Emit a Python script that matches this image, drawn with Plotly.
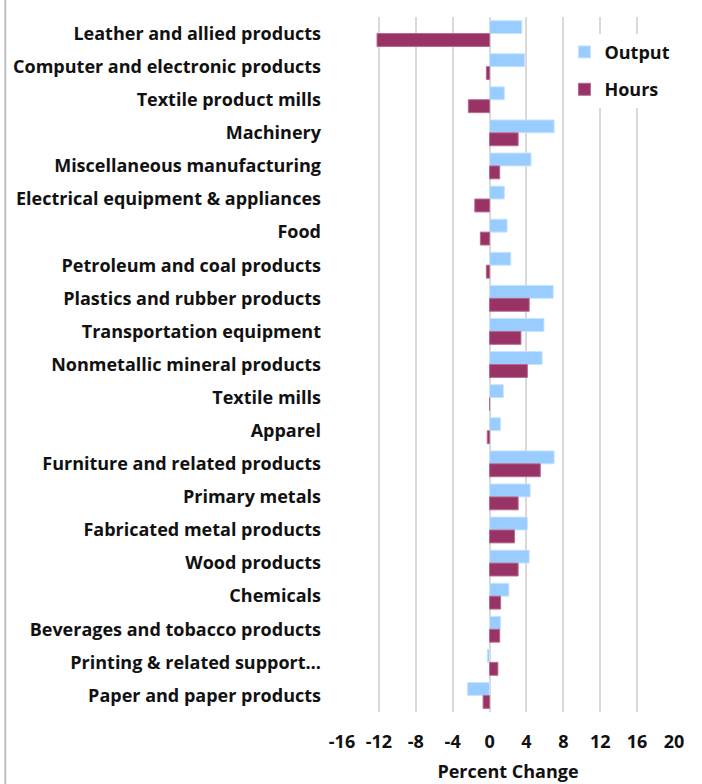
import plotly.graph_objects as go

categories = [
    "Leather and allied products",
    "Computer and electronic products",
    "Textile product mills",
    "Machinery",
    "Miscellaneous manufacturing",
    "Electrical equipment & appliances",
    "Food",
    "Petroleum and coal products",
    "Plastics and rubber products",
    "Transportation equipment",
    "Nonmetallic mineral products",
    "Textile mills",
    "Apparel",
    "Furniture and related products",
    "Primary metals",
    "Fabricated metal products",
    "Wood products",
    "Chemicals",
    "Beverages and tobacco products",
    "Printing & related support…",
    "Paper and paper products",
]
output_values = [3.5, 3.8, 1.6, 7.0, 4.5, 1.6, 1.9, 2.3, 6.9, 5.9, 5.7, 1.5, 1.2,
                 7.0, 4.4, 4.1, 4.3, 2.1, 1.2, -0.25, -2.4]
hours_values = [-12.2, -0.35, -2.3, 3.1, 1.1, -1.6, -1.0, -0.35, 4.3, 3.4, 4.1, 0.0,
                -0.25, 5.5, 3.1, 2.7, 3.1, 1.2, 1.1, 0.9, -0.7]
x_ticks = [-16, -12, -8, -4, 0, 4, 8, 12, 16, 20]

FONT = "Open Sans"
TXT = "#111111"

fig = go.Figure()
fig.add_trace(go.Bar(
    y=categories, x=output_values, orientation="h", name="Output",
    marker=dict(color="#99CCFF", line=dict(color="#C9E4FF", width=1)),
    legendgroup="a",
))
fig.add_trace(go.Bar(
    y=categories, x=hours_values, orientation="h", name="Hours",
    marker=dict(color="#993366", line=dict(color="#B56A8E", width=1)),
    legendgroup="b",
))

fig.update_layout(
    width=702, height=784,
    margin=dict(l=342, r=28, t=17, b=72, autoexpand=False),
    paper_bgcolor="white", plot_bgcolor="white",
    barmode="group", bargap=0.22, bargroupgap=0,
    font=dict(family=FONT, size=18, color=TXT),
    legend=dict(
        x=0.67, y=0.976, xanchor="left", yanchor="top",
        bgcolor="white", font=dict(family=FONT, size=18, color=TXT, weight="bold"),
        traceorder="grouped", tracegroupgap=11, itemwidth=30,
    ),
    showlegend=True,
)
fig.update_xaxes(
    range=[-16, 20], tickvals=x_ticks, ticktext=[str(v) for v in x_ticks],
    showgrid=True, gridcolor="#D9D9D9", gridwidth=2,
    zeroline=False, showline=False, ticks="", automargin=False,
    tickfont=dict(family=FONT, size=18, color=TXT, weight="bold"),
    ticklabelstandoff=17,
    title=dict(text="Percent Change", font=dict(family=FONT, size=18, color=TXT, weight="bold"), standoff=13),
)
fig.update_yaxes(
    autorange="reversed", showgrid=False, zeroline=False, showline=False, ticks="",
    automargin=False,
    tickfont=dict(family=FONT, size=18, color=TXT, weight="bold"),
    ticklabelstandoff=20,
)
fig.add_shape(type="line", xref="paper", yref="paper", x0=-337/332.3, x1=-337/332.3,
              y0=-72/695, y1=1 + 17/695, line=dict(color="#BFBFBF", width=2))
fig.write_html("out.html", config={"displayModeBar": False},
               post_script="document.body.style.margin='0';")
